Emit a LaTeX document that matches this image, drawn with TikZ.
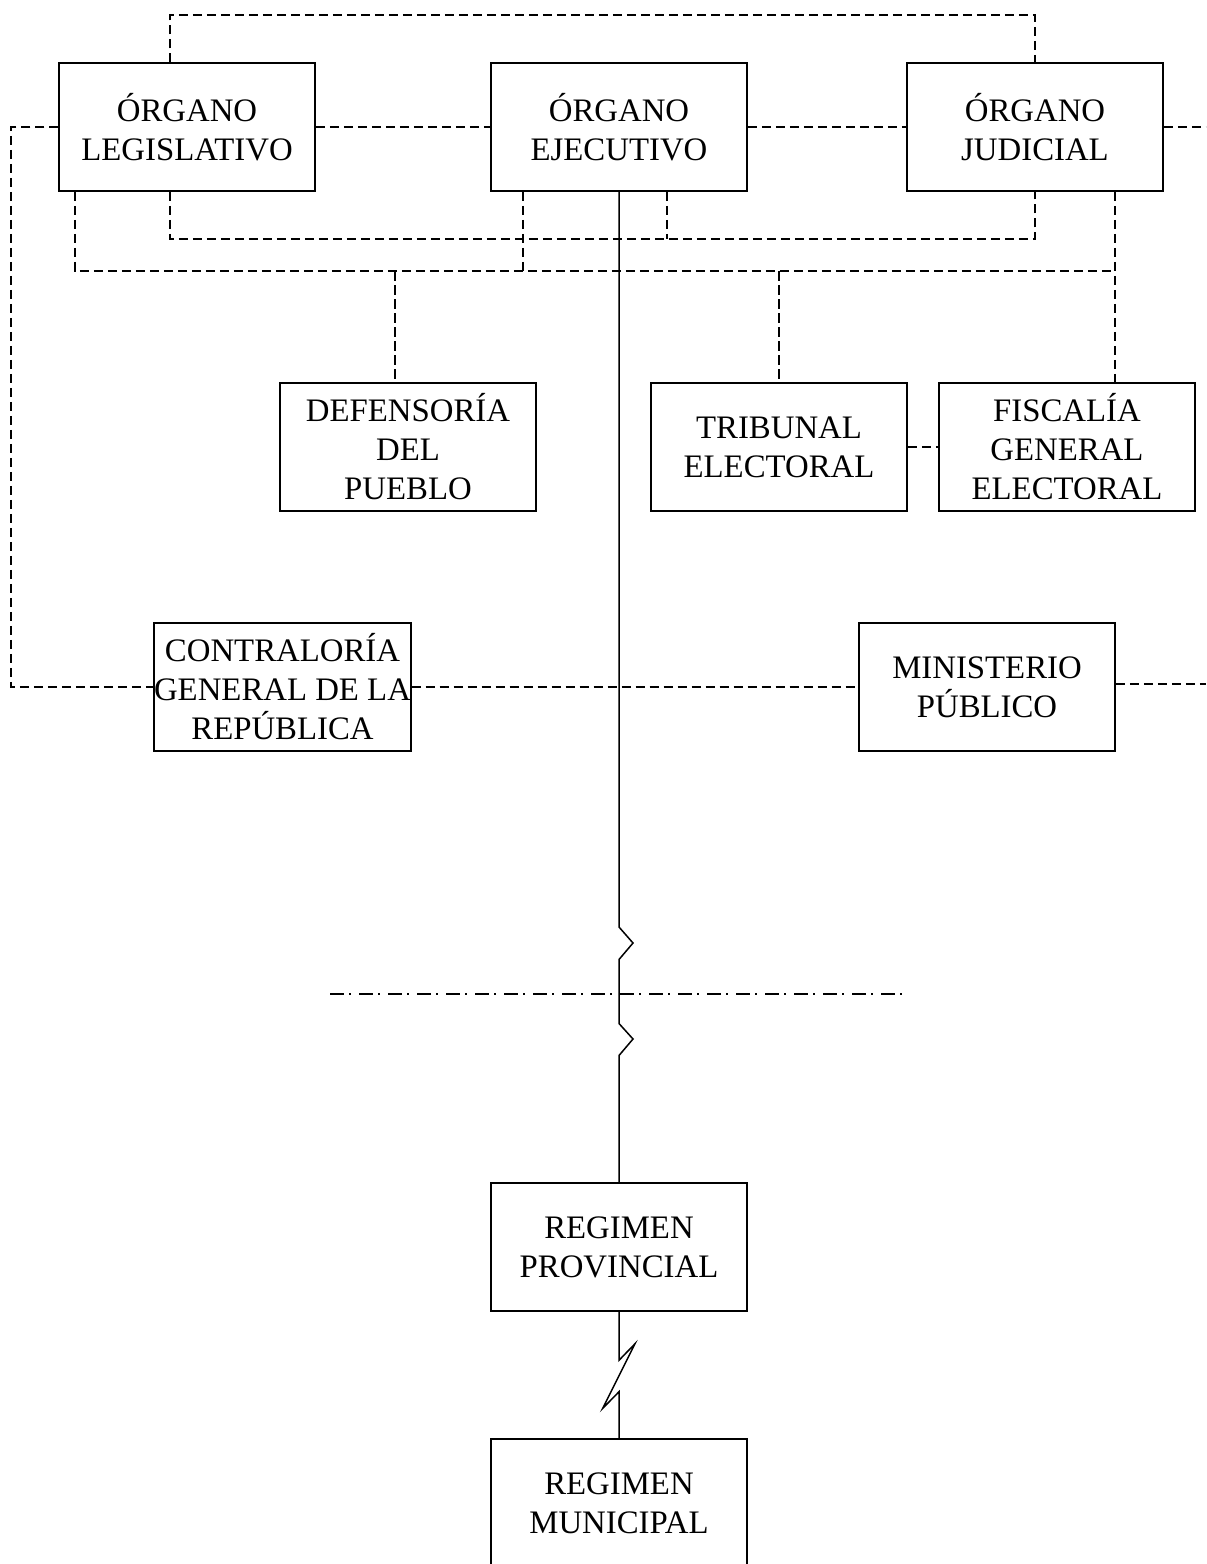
\documentclass[tikz,border=0pt]{standalone}
\usepackage{fontspec}
\setmainfont{Liberation Serif}
\usetikzlibrary{calc}
\begin{document}
\begin{tikzpicture}[x=0.5pt,y=-0.5pt,
  box/.style={draw,line width=0.75pt,minimum width=128pt,minimum height=64pt,inner sep=0pt,align=center,font=\fontsize{16.4}{19.5}\selectfont},
  dline/.style={draw,line width=0.7pt,dash pattern=on 4.75pt off 2.25pt},
  sline/.style={draw,line width=0.75pt},
  ddline/.style={draw,line width=0.75pt,dash pattern=on 7pt off 2.5pt on 1pt off 4pt}]
\useasboundingbox (0,0) rectangle (1206,1564);
\clip (0,0) rectangle (1206,1564);
% boxes
\node[box] (leg) at (187,127) {ÓRGANO\\LEGISLATIVO};
\node[box] (eje) at (619,127) {ÓRGANO\\EJECUTIVO};
\node[box] (jud) at (1035,127) {ÓRGANO\\JUDICIAL};
\node[box] (def) at (408,447) {DEFENSORÍA\\DEL\\PUEBLO};
\node[box] (tri) at (779,447) {TRIBUNAL\\ELECTORAL};
\node[box] (fis) at (1067,447) {FISCALÍA\\GENERAL\\ELECTORAL};
\node[box] (con) at (282.5,687) {CONTRALORÍA\\GENERAL DE LA\\REPÚBLICA};
\node[box] (min) at (987,687) {MINISTERIO\\PÚBLICO};
\node[box] (pro) at (619,1247) {REGIMEN\\PROVINCIAL};
\node[box] (mun) at (619,1503) {REGIMEN\\MUNICIPAL};
% helper coordinates
\coordinate (xL) at (11,0);
\coordinate (xR) at (1206,0);
\coordinate (xA) at (170,0);
\coordinate (xB) at (75,0);
\coordinate (xC) at (523,0);
\coordinate (xD) at (667,0);
\coordinate (xF) at (1115,0);
\coordinate (xG) at (395,0);
\coordinate (yT) at (0,15);
\coordinate (yU) at (0,239);
\coordinate (yW) at (0,271);
\coordinate (mE) at ($(min.east)+(0,-3)$);
% dashed connectors
\draw[dline] (xA |- leg.north) -- (xA |- yT) -| (jud.north);
\draw[dline] (leg.west) -| (xL |- con.west) -- (con.west);
\draw[dline] (leg.east) -- (eje.west);
\draw[dline] (eje.east) -- (jud.west);
\draw[dline] (jud.east) -- (xR |- jud.east);
\draw[dline] (xA |- leg.south) -- (xA |- yU) -| (jud.south);
\draw[dline] (xD |- eje.south) -- (xD |- yU);
\draw[dline] (xB |- leg.south) -- (xB |- yW) -- (xF |- yW);
\draw[dline] (xC |- eje.south) -- (xC |- yW);
\draw[dline] (xF |- jud.south) -- (xF |- fis.north);
\draw[dline] (xG |- yW) -- (xG |- def.north);
\draw[dline] (tri.north |- yW) -- (tri.north);
\draw[dline] (tri.east) -- (fis.west);
\draw[dline] (con.east) -- (min.west);
\draw[dline] (mE) -- (xR |- mE);
% solid line with breaks
\coordinate (z1) at (619,927);
\draw[sline] (eje.south) -- (z1) -- ++(14,16) -- ++(-14,16.5) -- ++(0,64) -- ++(14,15.5) -- ++(-14,16.5) -- (pro.north);
\draw[sline] (pro.south) -- ++(0,48.5) -- ++(16,-16.5) -- ++(-32.3,64.6) -- ++(16.3,-16.6) -- (mun.north);
% dash-dot line
\coordinate (d1) at (330,994);
\coordinate (d2) at (902,994);
\draw[ddline] (d1) -- (d2);
\end{tikzpicture}
\end{document}
